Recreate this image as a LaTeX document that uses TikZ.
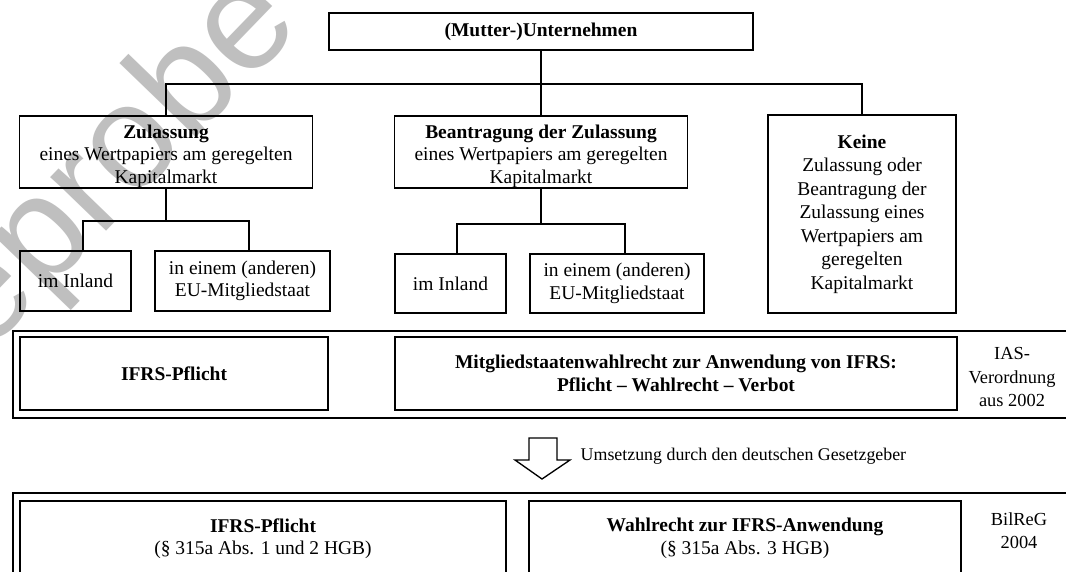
\documentclass[tikz,border=0pt]{standalone}
\usepackage{fontspec}
\setmainfont{Liberation Serif}
\newfontfamily\wmfont{Liberation Sans}
\usetikzlibrary{positioning}

\newcommand{\obenluft}{\rule{0pt}{1.1em}}

\tikzset{
	kasten/.style={draw, line width=1.2pt, align=center, inner sep=0pt},
	linie/.style={line width=1.2pt},
	randtext/.style={align=center, font=\fontsize{13.8}{17.3}\selectfont},
}

\begin{document}
\begin{tikzpicture}[x=0.75pt, y=-0.75pt, font=\fontsize{14.6}{16.8}\selectfont]
		\useasboundingbox (0,0) rectangle (1066,571);
		\clip (0,0) rectangle (1066,571);
		\fill[white] (0,0) rectangle (1066,571);
		
		\node[rotate=46, text=black!25, font=\wmfont\fontsize{110}{110}\selectfont] (wm) at (35,250) {Leseprobe};
		
		\node[kasten, minimum width=318pt, minimum height=27.75pt] (mutter) at (541,31.5) {\textbf{(Mutter-)Unternehmen}};
		
		\node[kasten, minimum width=219.75pt, minimum height=54pt] (zul) at (166,152) {\obenluft\textbf{Zulassung}\\eines Wertpapiers am geregelten\\Kapitalmarkt};
		\node[kasten, minimum width=219.75pt, minimum height=54pt] (bean) at (541,152) {\obenluft\textbf{Beantragung der Zulassung}\\eines Wertpapiers am geregelten\\Kapitalmarkt};
		\node[kasten, minimum width=141pt, minimum height=148.5pt, font=\fontsize{14.6}{17.6}\selectfont] (keine) at (862,214) {\textbf{Keine}\\Zulassung oder\\Beantragung der\\Zulassung eines\\Wertpapiers am\\geregelten\\Kapitalmarkt};
		
		\node[kasten, minimum width=83.25pt, minimum height=45pt] (inl1) at (75.5,281) {im Inland};
		\node[kasten, minimum width=131.25pt, minimum height=45pt] (eu1) at (242.5,281) {in einem (anderen)\\EU-Mitgliedstaat};
		\node[kasten, minimum width=83.25pt, minimum height=44.25pt] (inl2) at (450.5,283.5) {im Inland};
		\node[kasten, minimum width=130.5pt, minimum height=44.25pt] (eu2) at (617,283.5) {in einem (anderen)\\EU-Mitgliedstaat};
		
		\coordinate (h0) at (541,84);
		\coordinate (h1) at (166,221);
		\coordinate (h2) at (541,224);
		\draw[linie] (mutter.south) -- (h0);
		\draw[linie] (zul.north) |- (h0) -| (keine.north);
		\draw[linie] (h0) -- (bean.north);
		\draw[linie] (zul.south) -- (h1);
		\draw[linie] ([xshift=5.6pt]inl1.north) |- ([xshift=4.9pt]eu1.north |- h1) -- ([xshift=4.9pt]eu1.north);
		\draw[linie] (bean.south) -- (h2);
		\draw[linie] ([xshift=4.9pt]inl2.north) |- ([xshift=6pt]eu2.north |- h2) -- ([xshift=6pt]eu2.north);
		
		\draw[linie] (13,331) rectangle (1090,418);
		\node[kasten, minimum width=231pt, minimum height=54.75pt] (ias1) at (174,373.5) {\textbf{IFRS-Pflicht}};
		\node[kasten, minimum width=421.5pt, minimum height=54.75pt] (ias2) at (676,373.5) {\textbf{Mitgliedstaatenwahlrecht zur Anwendung von IFRS:}\\\textbf{Pflicht -- Wahlrecht -- Verbot}};
		\node[randtext] (ias) at (1012,377) {IAS-\\Verordnung\\aus 2002};
		
		\draw[line width=1pt, fill=white] (529,438) -- (557,438) -- (557,460) -- (570,460) -- (542,479) -- (515,460) -- (529,460) -- cycle;
		\node[randtext, anchor=west, font=\fontsize{13.4}{16}\selectfont] (umsetzung) at (576,456) {Umsetzung durch den deutschen Gesetzgeber};
		
		\draw[linie] (13,493) rectangle (1090,600);
		\node[kasten, minimum width=364.5pt, minimum height=56.25pt] (bil1) at (263,538.5) {\textbf{IFRS-Pflicht}\\(§ 315a Abs. 1 und 2 HGB)};
		\node[kasten, minimum width=324pt, minimum height=56.25pt] (bil2) at (745,538.5) {\textbf{Wahlrecht zur IFRS-Anwendung}\\(§ 315a Abs. 3 HGB)};
		\node[randtext] (bilreg) at (1019,531) {BilReG\\2004};
		
	\end{tikzpicture}
\end{document}
